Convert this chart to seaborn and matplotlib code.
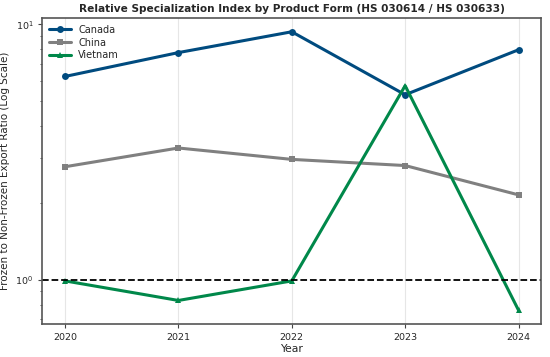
import numpy as np
import pandas as pd
import matplotlib
matplotlib.use("Agg")
import matplotlib.pyplot as plt
import seaborn as sns

# values (frozen / non-frozen export ratio)
years = [2020, 2021, 2022, 2023, 2024]
canada = [6.25, 7.75, 9.35, 5.3, 7.95]
china = [2.77, 3.28, 2.96, 2.80, 2.15]
vietnam = [0.99, 0.83, 0.99, 5.75, 0.76]

countries = ["Canada", "China", "Vietnam"]
colors = ["#004b7f", "#808080", "#00884a"]
markers = ["o", "s", "^"]

df = pd.DataFrame({
    "Year": years * 3,
    "Ratio": canada + china + vietnam,
    "Country": np.repeat(countries, len(years)),
})

sns.set_style("white")
fig, ax = plt.subplots(figsize=(5.5, 3.57), dpi=100)

for country, color, marker in zip(countries, colors, markers):
    sub = df[df["Country"] == country]
    sns.lineplot(data=sub, x="Year", y="Ratio", ax=ax, color=color,
                 marker=marker, markersize=5, markeredgewidth=0,
                 linewidth=2.2, label=country)

ax.set_yscale("log")
ax.axhline(1.0, color="black", linestyle="--", linewidth=1.3)
ax.set_xticks(years)
ax.tick_params(axis="both", which="major", labelsize=6.8, length=3,
               color="#444444", left=True, bottom=True)
ax.tick_params(axis="y", which="minor", length=1.5, color="#444444", left=True)
ax.grid(axis="x", color="#e6e6e6", linewidth=0.8)
for s in ax.spines.values():
    s.set_color("#555555")
    s.set_linewidth(1.2)

ax.set_title("Relative Specialization Index by Product Form (HS 030614 / HS 030633)",
             fontsize=7.6, fontweight="bold", pad=4)
ax.set_xlabel("Year", fontsize=7.8, labelpad=1)
ax.set_ylabel("Frozen to Non-Frozen Export Ratio (Log Scale)", fontsize=7.5)
ax.legend(loc="upper left", fontsize=7, frameon=False, handlelength=2.2,
          borderaxespad=0.3, labelspacing=0.3)

fig.subplots_adjust(left=0.077, right=0.984, top=0.95, bottom=0.092)
fig.savefig("out.png", dpi=100)
